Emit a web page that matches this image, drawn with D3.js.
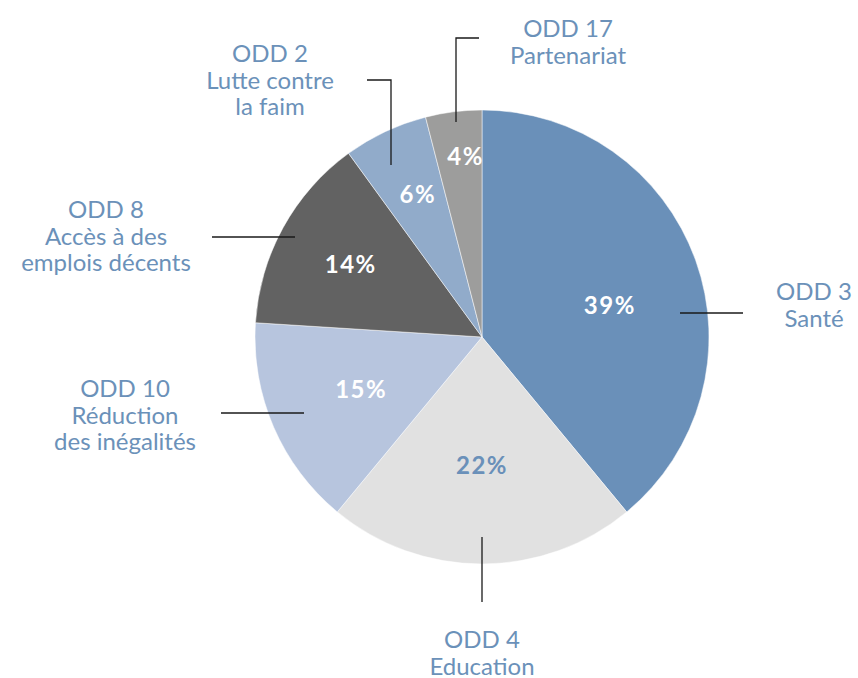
<!DOCTYPE html>
<html>
<head>
<meta charset="utf-8">
<script src="https://cdn.jsdelivr.net/npm/d3@7"></script>
<style>
  body { margin: 0; background: #fff; }
  .odd-label { font-family: Lato, "Open Sans", sans-serif; font-size: 24px; fill: #6b91b9; }
  .pct-label { font-family: Lato, "Open Sans", sans-serif; font-size: 24px; font-weight: 700; letter-spacing: 1.5px; }
</style>
</head>
<body>
<svg id="chart" width="858" height="678"></svg>
<script>
"use strict";

// data, clockwise from 12 o'clock
const codes = ["ODD 3", "ODD 4", "ODD 10", "ODD 8", "ODD 2", "ODD 17"]
const names = [["Santé"], ["Education"], ["Réduction", "des inégalités"],
               ["Accès à des", "emplois décents"], ["Lutte contre", "la faim"], ["Partenariat"]]
const shares = [39, 22, 15, 14, 6, 4]
const colors = ["#6a90b9", "#e1e1e1", "#b7c5de", "#626262", "#91abca", "#9d9d9c"]
const pctColors = ["#fff", "#6a90b9", "#fff", "#fff", "#fff", "#fff"]

const svg = d3.select("#chart")
const cx = 482, cy = 337, R = 227

const g = svg.append("g").attr("transform", `translate(${cx},${cy})`)

const pie = d3.pie().sort(null).value(d => d.share)
const arc = d3.arc().innerRadius(0).outerRadius(R)

const slices = pie(shares.map((s, i) => ({ share: s, i: i })))

g.selectAll("path.slice")
  .data(slices)
  .enter()
  .append("path")
  .attr("class", "slice")
  .attr("d", arc)
  .attr("fill", d => colors[d.data.i])
  .attr("stroke", "#fff")
  .attr("stroke-width", 0.5)

// where each percentage sits: fraction of the radius, angle nudge (deg)
const pctRadius = [0.58, 0.565, 0.58, 0.66, 0.69, 0.8]
const pctNudge = [6, 0, 0, 0, 1, 2]

g.selectAll("text.pct")
  .data(slices)
  .enter()
  .append("text")
  .attr("class", "pct-label")
  .attr("text-anchor", "middle")
  .attr("dy", "0.36em")
  .attr("transform", d => {
    const i = d.data.i
    const a = (d.startAngle + d.endAngle) / 2 + pctNudge[i] * Math.PI / 180
    const r = R * pctRadius[i]
    return `translate(${r * Math.sin(a)},${-r * Math.cos(a)})`
  })
  .attr("fill", d => pctColors[d.data.i])
  .text(d => d.data.share + "%")

// callouts: leader line points and text anchor, relative to the pie centre
const callouts = [
  { pts: [[198, -24], [261, -24]], text: [332, -37] },
  { pts: [[0, 200], [0, 265]], text: [0, 311] },
  { pts: [[-178, 76], [-261, 76]], text: [-357, 60] },
  { pts: [[-187, -100], [-270, -100]], text: [-376, -119] },
  { pts: [[-91, -172], [-91, -257], [-115, -257]], text: [-212, -275] },
  { pts: [[-26, -215], [-26, -299], [-3, -299]], text: [86, -300] }
]

const line = d3.line()

g.selectAll("path.leader")
  .data(callouts)
  .enter()
  .append("path")
  .attr("class", "leader")
  .attr("d", c => line(c.pts))
  .attr("fill", "none")
  .attr("stroke", "#1a1a1a")
  .attr("stroke-width", 1.3)

const labels = g.selectAll("text.odd")
  .data(callouts)
  .enter()
  .append("text")
  .attr("class", "odd-label")
  .attr("text-anchor", "middle")
  .attr("x", c => c.text[0])
  .attr("y", c => c.text[1])

labels.each(function(c, i) {
  const t = d3.select(this)
  const lines = [codes[i]].concat(names[i])
  lines.forEach((s, k) => {
    t.append("tspan")
      .attr("x", c.text[0])
      .attr("dy", k === 0 ? 0 : 26.5)
      .text(s)
  })
})
</script>
</body>
</html>
